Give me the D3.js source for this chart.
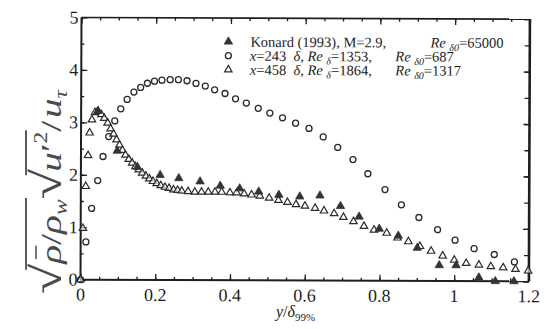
<!DOCTYPE html>
<html lang="en">
<head>
<meta charset="UTF-8">
<title>Intensity profile</title>
<script src="https://d3js.org/d3.v7.min.js"></script>
<style>
    body { margin: 0; padding: 0; background: #fff; }
    svg { display: block; font-family: "Liberation Serif", "DejaVu Serif", serif; }
</style>
</head>
<body>
<svg id="chart" width="545" height="331"></svg>
<script>
// Konard (1993), M=2.9
const konardX = [0.045, 0.097, 0.151, 0.212, 0.262, 0.319, 0.373, 0.425, 0.476, 0.530, 0.586, 0.640,
    0.695, 0.745, 0.799, 0.850, 0.901, 0.960, 1.005, 1.066, 1.110, 1.160];
const konardY = [3.22, 2.46, 2.15, 2.00, 1.94, 1.88, 1.80, 1.75, 1.69, 1.63, 1.60, 1.62,
    1.42, 1.22, 0.99, 0.86, 0.63, 0.30, 0.30, 0.07, 0.0, 0.0];

// x = 243 delta
const st243X = [0, 0.014, 0.029, 0.045, 0.059, 0.074, 0.090, 0.106, 0.123, 0.141, 0.159, 0.177, 0.196,
    0.216, 0.238, 0.260, 0.283, 0.307, 0.332, 0.357, 0.385, 0.413, 0.442, 0.474, 0.505, 0.539, 0.574,
    0.610, 0.648, 0.687, 0.728, 0.768, 0.814, 0.858, 0.905, 0.955, 1.002, 1.053, 1.107, 1.161];
const st243Y = [0, 0.72, 1.36, 1.89, 2.35, 2.73, 3.03, 3.26, 3.44, 3.58, 3.67, 3.75, 3.79,
    3.81, 3.82, 3.82, 3.80, 3.75, 3.70, 3.63, 3.56, 3.46, 3.38, 3.28, 3.19, 3.10, 3.00,
    2.90, 2.74, 2.54, 2.31, 2.04, 1.74, 1.45, 1.21, 0.98, 0.78, 0.62, 0.51, 0.37];

// x = 458 delta
const st458X = [0, 0.006, 0.013, 0.019, 0.023, 0.029, 0.037, 0.045, 0.054, 0.062, 0.071, 0.079, 0.087,
    0.095, 0.103, 0.111, 0.119, 0.128, 0.137, 0.146, 0.155, 0.164, 0.174, 0.183, 0.193, 0.203, 0.214,
    0.225, 0.236, 0.248, 0.259, 0.270, 0.287, 0.305, 0.323, 0.341, 0.359, 0.377, 0.399, 0.417, 0.437,
    0.457, 0.479, 0.504, 0.529, 0.553, 0.576, 0.600, 0.627, 0.651, 0.678, 0.703, 0.730, 0.758, 0.785,
    0.819, 0.848, 0.877, 0.908, 0.938, 0.969, 1.000, 1.032, 1.066, 1.098, 1.131, 1.164, 1.198];
const st458Y = [0, 0.98, 1.78, 2.37, 2.80, 3.05, 3.19, 3.21, 3.15, 3.08, 2.99, 2.88, 2.78,
    2.67, 2.57, 2.47, 2.38, 2.30, 2.23, 2.16, 2.10, 2.04, 1.98, 1.93, 1.88, 1.84, 1.80,
    1.77, 1.75, 1.72, 1.71, 1.70, 1.69, 1.68, 1.68, 1.68, 1.68, 1.68, 1.67, 1.67, 1.65,
    1.63, 1.61, 1.57, 1.53, 1.49, 1.45, 1.42, 1.38, 1.33, 1.28, 1.21, 1.13, 1.04, 0.97,
    0.91, 0.82, 0.75, 0.66, 0.57, 0.48, 0.40, 0.34, 0.31, 0.28, 0.26, 0.23, 0.20];

const xTicks = [0, 0.2, 0.4, 0.6, 0.8, 1, 1.2];
const xTickLabels = ["0", "0.2", "0.4", "0.6", "0.8", "1", "1.2"];
const yTicks = [0, 1, 2, 3, 4, 5];
const yTickLabels = ["0", "1", "2", "3", "4", "5"];

const ink = "#1e1e1e";
const svg = d3.select("#chart");
svg.append("rect").attr("width", 545).attr("height", 331).attr("fill", "#fff");

// the scan is turned a little clockwise
const g = svg.append("g").attr("transform", "rotate(0.22, 305, 149)");

const x = d3.scaleLinear().domain([0, 1.2]).range([81, 529.4]);
const y = d3.scaleLinear().domain([0, 5]).range([280.5, 18.3]);

// ticks (inward on all four sides)
const minorX = d3.range(0, 1.2001, 0.05);
const minorY = d3.range(0, 5.001, 0.5);

function tickAxis(axis, pos, values, len) {
    const a = g.append("g").attr("transform", pos)
        .call(axis.tickValues(values).tickSizeInner(-len).tickSizeOuter(0).tickFormat(""));
    a.select(".domain").remove();
    a.selectAll("line").attr("stroke", ink).attr("stroke-width", 1.3);
}
tickAxis(d3.axisBottom(x), `translate(0,${y(0)})`, minorX, 3);
tickAxis(d3.axisBottom(x), `translate(0,${y(0)})`, xTicks, 6);
tickAxis(d3.axisTop(x), `translate(0,${y(5)})`, minorX, 3);
tickAxis(d3.axisTop(x), `translate(0,${y(5)})`, xTicks, 6);
tickAxis(d3.axisLeft(y), `translate(${x(0)},0)`, minorY, 3);
tickAxis(d3.axisLeft(y), `translate(${x(0)},0)`, yTicks, 6);
tickAxis(d3.axisRight(y), `translate(${x(1.2)},0)`, minorY, 5);
tickAxis(d3.axisRight(y), `translate(${x(1.2)},0)`, yTicks, 6);

// frame
g.append("line").attr("x1", x(0)).attr("x2", x(1.2)).attr("y1", y(5)).attr("y2", y(5))
    .attr("stroke", ink).attr("stroke-width", 1.6);
g.append("line").attr("x1", x(0)).attr("x2", x(1.2)).attr("y1", y(0)).attr("y2", y(0))
    .attr("stroke", ink).attr("stroke-width", 2);
g.append("line").attr("x1", x(0)).attr("x2", x(0)).attr("y1", y(0)).attr("y2", y(5))
    .attr("stroke", ink).attr("stroke-width", 2);
g.append("line").attr("x1", x(1.2)).attr("x2", x(1.2)).attr("y1", y(0)).attr("y2", y(5))
    .attr("stroke", ink).attr("stroke-width", 2.6);

// tick labels
g.selectAll(".xl").data(xTicks).enter().append("text")
    .attr("x", d => x(d)).attr("y", y(0) + 21)
    .attr("text-anchor", "middle").attr("font-size", 18).attr("fill", ink)
    .text((d, i) => xTickLabels[i]);
g.selectAll(".yl").data(yTicks).enter().append("text")
    .attr("x", x(0) - 3).attr("y", d => y(d) + 6)
    .attr("text-anchor", "end").attr("font-size", 18).attr("fill", ink)
    .text((d, i) => yTickLabels[i]);

// markers
const triFill = d3.symbol().type(d3.symbolTriangle).size(30);
const triOpen = d3.symbol().type(d3.symbolTriangle).size(24);

g.selectAll(".c243").data(st243X).enter().append("circle")
    .attr("cx", d => x(d)).attr("cy", (d, i) => y(st243Y[i])).attr("r", 3)
    .attr("fill", "none").attr("stroke", "#2a2a2a").attr("stroke-width", 1.3);
g.selectAll(".t458").data(st458X).enter().append("path")
    .attr("d", triOpen)
    .attr("transform", (d, i) => `translate(${x(d)},${y(st458Y[i])})`)
    .attr("fill", "#fff").attr("fill-opacity", 0.6).attr("stroke", "#2a2a2a").attr("stroke-width", 1.2);
g.selectAll(".kon").data(konardX).enter().append("path")
    .attr("d", triFill)
    .attr("transform", (d, i) => `translate(${x(d)},${y(konardY[i])})`)
    .attr("fill", "#333").attr("stroke", "#333").attr("stroke-width", 0.8);

// legend
const legX = 228;
const legRows = [42, 56, 70];
g.append("path").attr("d", triFill).attr("transform", `translate(${legX},${legRows[0]})`)
    .attr("fill", "#333").attr("stroke", "#333").attr("stroke-width", 0.8);
g.append("circle").attr("cx", legX).attr("cy", legRows[1]).attr("r", 3)
    .attr("fill", "none").attr("stroke", "#2a2a2a").attr("stroke-width", 1.3);
g.append("path").attr("d", triOpen).attr("transform", `translate(${legX},${legRows[2]})`)
    .attr("fill", "none").attr("stroke", "#2a2a2a").attr("stroke-width", 1.2);

function legendRow(row, parts) {
    const t = g.append("text").attr("y", legRows[row] + 5).attr("font-size", 14.5).attr("fill", ink)
        .attr("xml:space", "preserve");
    parts.forEach(p => {
        const s = t.append("tspan").text(p.t);
        if (p.x !== undefined) s.attr("x", p.x);
        if (p.it) s.attr("font-style", "italic");
        if (p.sub) s.attr("font-size", 10).attr("dy", 3.5);
        if (p.up) s.attr("dy", -3.5);
    });
}
legendRow(0, [
    {t: "Konard (1993), M=2.9,", x: 250},
    {t: "Re ", x: 430, it: true}, {t: "δ0", it: true, sub: true}, {t: "=65000", up: true}
]);
legendRow(1, [
    {t: "x", x: 249.5, it: true}, {t: "=243  "}, {t: "δ, Re ", it: true}, {t: "δ", it: true, sub: true},
    {t: "=1353,", up: true},
    {t: "Re ", x: 395, it: true}, {t: "δ0", it: true, sub: true}, {t: "=687", up: true}
]);
legendRow(2, [
    {t: "x", x: 249.5, it: true}, {t: "=458  "}, {t: "δ, Re ", it: true}, {t: "δ", it: true, sub: true},
    {t: "=1864,", up: true},
    {t: "Re ", x: 395, it: true}, {t: "δ0", it: true, sub: true}, {t: "=1317", up: true}
]);

// x axis title
const xt = svg.append("text").attr("x", 276).attr("y", 317).attr("font-size", 16).attr("fill", ink);
xt.append("tspan").attr("font-style", "italic").text("y");
xt.append("tspan").text("/");
xt.append("tspan").attr("font-style", "italic").text("δ");
xt.append("tspan").attr("font-size", 11).attr("dy", 4).text("99%");

// y axis title, built piece by piece along a rotated baseline
const labelInk = "#4a4a4a";
const yt = svg.append("g").attr("transform", "translate(61,294) rotate(-90)");
const inner = yt.append("g");
const pieces = [
    {t: "√", size: 42, root: 1},
    {t: "ρ", it: true, over: 1, bar: true},
    {t: "/", over: 1},
    {t: "ρ", it: true, over: 1},
    {t: "w", it: true, size: 18, dy: 6, over: 1},
    {t: "√", size: 42, root: 2, dx: -2},
    {t: "u", it: true, over: 2},
    {t: "′", over: 2},
    {t: "2", size: 18, dy: -14, over: 2},
    {t: "/", dx: 2},
    {t: "u", it: true},
    {t: "τ", it: true, size: 18, dy: 6}
];
let cx = 0;
const spans = {};
const bars = [];
pieces.forEach(p => {
    const el = inner.append("text").attr("x", cx).attr("y", p.dy || 0)
        .attr("font-size", p.size || 30).attr("fill", labelInk)
        .attr("font-style", p.it ? "italic" : "normal")
        .text(p.t);
    const w = el.node().getComputedTextLength();
    if (p.root) spans[p.root] = {start: cx + w * 0.8, end: cx + w};
    if (p.over) spans[p.over].end = cx + w;
    if (p.bar) bars.push([cx + w * 0.25, cx + w * 0.95]);
    cx += w + (p.dx || 0);
});
[1, 2].forEach(k => {
    inner.append("line").attr("x1", spans[k].start).attr("x2", spans[k].end + 1)
        .attr("y1", -35).attr("y2", -35).attr("stroke", labelInk).attr("stroke-width", 1.8);
});
bars.forEach(b => {
    inner.append("line").attr("x1", b[0]).attr("x2", b[1])
        .attr("y1", -25).attr("y2", -25).attr("stroke", labelInk).attr("stroke-width", 1.5);
});
inner.attr("transform", `scale(${204 / cx},1)`);
</script>
</body>
</html>
